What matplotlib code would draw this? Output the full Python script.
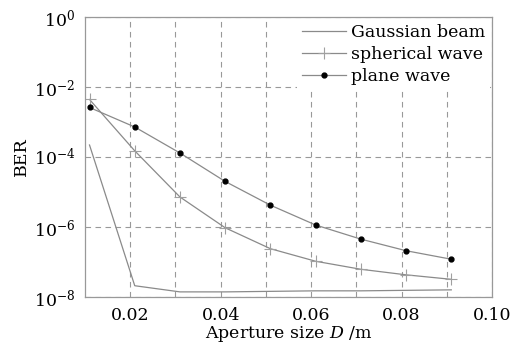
import numpy as np
import matplotlib.pyplot as plt

plt.rcParams['font.family'] = ['DejaVu Serif']
plt.rcParams['mathtext.fontset'] = 'dejavuserif'

# aperture size D (m)
D = [0.011, 0.021, 0.031, 0.041, 0.051, 0.061, 0.071, 0.081, 0.091]

# BER values
ber_gauss = [2.2e-4, 2.1e-8, 1.4e-8, 1.4e-8, 1.45e-8, 1.5e-8, 1.5e-8, 1.55e-8, 1.6e-8]
ber_sph = [4.4e-3, 1.5e-4, 7.2e-6, 9.5e-7, 2.4e-7, 1.05e-7, 6.2e-8, 4.3e-8, 3.2e-8]
ber_plane = [2.6e-3, 7.2e-4, 1.3e-4, 2.0e-5, 4.2e-6, 1.14e-6, 4.5e-7, 2.1e-7, 1.2e-7]

fig = plt.figure(figsize=(5.26, 3.44), dpi=100)
ax = fig.add_axes([85/526, 1 - 297/344, (492-85)/526, (297-17)/344])

lc = '#8a8a8a'
ax.semilogy(D, ber_gauss, color=lc, lw=0.9, label='Gaussian beam')
ax.semilogy(D, ber_sph, color=lc, lw=0.9, marker='+', ms=9, mew=0.8,
            mec='#a0a0a0', label='spherical wave')
ax.semilogy(D, ber_plane, color=lc, lw=0.9, marker='o', ms=3.5, mfc='k', mec='k',
            label='plane wave')

fs = 12.5
ax.set_xlim(0.01, 0.10)
ax.set_ylim(1e-8, 1)
ax.set_xticks(np.arange(0.02, 0.101, 0.02))
ax.set_xticklabels(['0.02', '0.04', '0.06', '0.08', '0.10'])
ax.set_xticks(np.arange(0.03, 0.091, 0.02), minor=True)
ax.set_yticks([1, 1e-2, 1e-4, 1e-6, 1e-8])
ax.set_yticklabels(['$10^{0}$', '$10^{-2}$', '$10^{-4}$', '$10^{-6}$', '$10^{-8}$'])
ax.yaxis.set_minor_locator(plt.NullLocator())
ax.tick_params(which='both', length=0, labelsize=fs, pad=7)
ax.xaxis.grid(True, which='both', ls=(0, (5, 4)), color='#999999', lw=0.8)
ax.yaxis.grid(True, which='major', ls=(0, (5, 4)), color='#999999', lw=0.8)
for s in ax.spines.values():
    s.set_color('#999999')
    s.set_linewidth(0.9)
    s.set_zorder(3)

ax.set_xlabel('Aperture size $D$ /m', fontsize=fs, labelpad=0)
ax.set_ylabel('BER', fontsize=fs, labelpad=3)

leg = ax.legend(loc='upper right', fontsize=fs, frameon=True, framealpha=1,
                edgecolor='none', fancybox=False, handlelength=2.5,
                handletextpad=0.3, labelspacing=0.3, borderpad=0.3,
                borderaxespad=0.1)

fig.savefig('out.png', dpi=100)
